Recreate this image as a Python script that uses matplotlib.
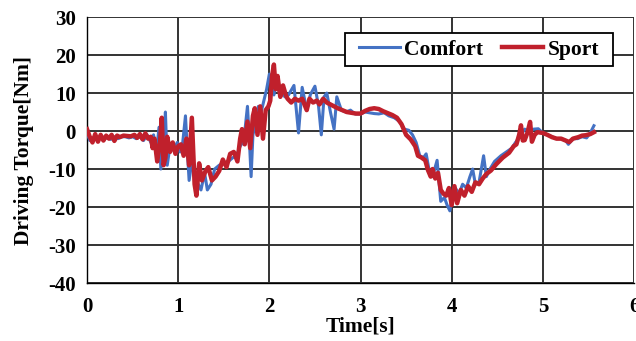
import numpy as np
import matplotlib
matplotlib.use("Agg")
from matplotlib import pyplot as plt
from matplotlib.patches import Rectangle

# torque traces for the two drive modes
t_comfort = [0.00, 0.03, 0.06, 0.09, 0.12, 0.15, 0.18, 0.22, 0.26, 0.30, 0.34, 0.38, 0.42, 0.46,
             0.50, 0.54, 0.58, 0.62, 0.66, 0.70, 0.73, 0.76, 0.79, 0.81, 0.84, 0.86, 0.88, 0.91,
             0.95, 0.99, 1.02, 1.05, 1.08, 1.10, 1.12, 1.15, 1.18, 1.22, 1.25, 1.29, 1.32, 1.36,
             1.40, 1.45, 1.50, 1.55, 1.60, 1.64, 1.68, 1.72, 1.76, 1.78, 1.80, 1.82, 1.85, 1.88,
             1.91, 1.94, 1.97, 2.00, 2.03, 2.05, 2.08, 2.11, 2.13, 2.17, 2.21, 2.27, 2.32, 2.36,
             2.41, 2.45, 2.50, 2.54, 2.57, 2.60, 2.63, 2.67, 2.71, 2.74, 2.79, 2.84, 2.89, 2.94,
             3.00, 3.05, 3.10, 3.15, 3.20, 3.26, 3.31, 3.37, 3.43, 3.48, 3.53, 3.57, 3.61, 3.65,
             3.69, 3.72, 3.76, 3.79, 3.84, 3.88, 3.92, 3.95, 3.98, 4.01, 4.04, 4.08, 4.12, 4.16,
             4.20, 4.23, 4.26, 4.30, 4.35, 4.38, 4.42, 4.47, 4.54, 4.60, 4.66, 4.70, 4.75, 4.80,
             4.85, 4.90, 4.95, 5.00, 5.05, 5.10, 5.15, 5.20, 5.25, 5.28, 5.33, 5.38, 5.43, 5.48,
             5.52, 5.56]
comfort = [-0.5, -2.5, -2.0, -1.5, -2.5, -1.2, -2.5, -1.5, -2.2, -1.5, -2.0, -1.5, -1.5, -1.8,
           -1.5, -2.0, -1.5, -2.5, -1.0, -3.0, -1.0, -6.0, 1.0, -10.0, -4.0, 5.0, -9.0, -4.0,
           -5.0, -3.0, -5.5, -3.0, 4.0, -5.0, -13.0, -8.0, -12.0, -14.0, -15.5, -11.0, -15.5, -14.0,
           -10.0, -9.0, -8.5, -8.0, -7.0, -6.5, -4.0, -2.5, 6.5, -2.0, -12.0, -1.0, 2.0, 6.5,
           5.0, 8.0, 11.0, 15.0, 11.0, 9.5, 14.0, 10.0, 11.0, 9.0, 9.5, 12.0, -0.5, 11.5,
           5.5, 9.6, 11.8, 6.5, -1.0, 9.0, 10.0, 5.0, 0.5, 9.0, 5.5, 5.0, 5.5, 4.5,
           4.5, 5.0, 4.8, 4.6, 4.5, 4.8, 4.0, 3.5, 2.5, 0.5, 0.2, -1.0, -3.0, -6.5,
           -7.0, -6.0, -11.3, -12.0, -7.7, -18.5, -17.5, -19.5, -21.0, -17.0, -15.0, -16.5, -14.0, -15.0,
           -12.0, -10.0, -14.0, -13.5, -6.5, -12.0, -10.0, -8.0, -6.5, -5.5, -4.5, -3.0, -1.5, 0.5,
           0.0, 0.5, 0.6, -0.5, -1.0, -1.5, -2.0, -2.0, -2.5, -3.5, -2.0, -2.0, -1.5, -1.8,
           -0.5, 1.4]

t_sport = [0.00, 0.03, 0.06, 0.09, 0.12, 0.15, 0.18, 0.21, 0.24, 0.27, 0.30, 0.33, 0.36, 0.40,
           0.44, 0.48, 0.52, 0.55, 0.58, 0.61, 0.64, 0.67, 0.70, 0.72, 0.74, 0.77, 0.80, 0.82,
           0.84, 0.86, 0.88, 0.91, 0.94, 0.97, 1.00, 1.03, 1.06, 1.09, 1.12, 1.15, 1.18, 1.20,
           1.23, 1.26, 1.30, 1.33, 1.37, 1.41, 1.45, 1.49, 1.53, 1.57, 1.61, 1.65, 1.68, 1.70,
           1.73, 1.76, 1.79, 1.82, 1.84, 1.87, 1.90, 1.93, 1.96, 1.99, 2.01, 2.03, 2.05, 2.07,
           2.09, 2.12, 2.15, 2.18, 2.20, 2.24, 2.28, 2.32, 2.36, 2.41, 2.44, 2.48, 2.52, 2.55,
           2.59, 2.63, 2.67, 2.71, 2.75, 2.80, 2.85, 2.90, 2.95, 3.00, 3.05, 3.10, 3.15, 3.20,
           3.25, 3.30, 3.35, 3.40, 3.45, 3.50, 3.55, 3.60, 3.63, 3.67, 3.71, 3.74, 3.77, 3.79,
           3.82, 3.85, 3.88, 3.91, 3.94, 3.97, 4.00, 4.03, 4.06, 4.10, 4.14, 4.18, 4.22, 4.26,
           4.30, 4.34, 4.38, 4.43, 4.49, 4.56, 4.63, 4.68, 4.71, 4.74, 4.76, 4.78, 4.80, 4.83,
           4.86, 4.88, 4.91, 4.94, 5.00, 5.05, 5.10, 5.15, 5.20, 5.25, 5.29, 5.33, 5.39, 5.43,
           5.47, 5.52, 5.56]
sport = [0.5, -1.5, -3.0, -0.8, -2.8, -1.0, -2.5, -1.2, -2.0, -1.0, -2.6, -1.2, -1.6, -1.2,
         -1.3, -1.4, -1.0, -1.8, -0.8, -2.2, -0.6, -2.0, -1.5, -4.5, -2.0, -8.0, -3.0, 3.5,
         -9.0, -7.0, -1.5, -5.5, -3.0, -6.0, -4.0, -3.5, -6.5, -2.0, -9.0, 3.5, -14.0, -17.0,
         -8.5, -13.0, -10.5, -9.5, -13.0, -12.0, -10.5, -7.5, -9.5, -6.0, -5.5, -8.0, -2.0, 0.5,
         -3.5, 2.5, -4.5, 4.0, 6.0, -1.0, 6.5, -2.0, 5.5, 6.5, 8.0, 14.5, 17.5, 11.0,
         14.5, 9.0, 12.0, 9.5, 8.5, 7.5, 8.5, 8.0, 8.5, 5.5, 8.5, 7.5, 8.0, 7.0,
         8.5, 7.5, 7.0, 6.5, 6.0, 5.5, 5.0, 4.8, 4.6, 4.6, 5.3, 5.8, 6.0, 5.8,
         5.2, 4.7, 4.2, 3.5, 1.8, -1.0, -2.2, -4.0, -6.5, -7.0, -7.7, -10.3, -12.0, -10.0,
         -12.5, -11.0, -15.5, -16.5, -17.0, -15.0, -19.5, -14.5, -19.0, -15.5, -17.0, -14.5, -16.0, -13.5,
         -14.0, -12.5, -11.3, -10.4, -8.7, -7.0, -5.7, -4.0, -3.5, -1.0, 1.5, -2.5, -2.4, -0.5,
         2.4, -2.8, -1.0, -0.3, -0.5, -1.0, -1.6, -2.0, -2.0, -2.5, -2.9, -2.0, -1.6, -1.2,
         -1.1, -0.8, -0.3]

plt.rcParams['font.family'] = ['Liberation Serif', 'DejaVu Serif']
plt.rcParams['font.weight'] = 'bold'
plt.rcParams['axes.unicode_minus'] = False

fig = plt.figure(figsize=(6.36, 3.41), dpi=100)
ax = fig.add_axes([0.1368, 0.170, 0.8601, 0.780])

ax.plot(t_comfort, comfort, color='#4472C4', lw=2.2, label='Comfort', zorder=3)
ax.plot(t_sport, sport, color='#C0202C', lw=3.2, label='Sport', zorder=4)

ax.set_xlim(0, 6)
ax.set_ylim(-40, 30)
ax.set_xticks(np.arange(0, 7, 1))
ax.set_yticks(np.arange(-40, 31, 10))
ax.grid(True, color='#333333', lw=1.4)
ax.set_axisbelow(True)
for side in ['top', 'right']:
    ax.spines[side].set_visible(False)
for side in ['left', 'bottom']:
    ax.spines[side].set_color('black')
    ax.spines[side].set_linewidth(1.0)
ax.tick_params(length=0, labelsize=15)
ax.tick_params(axis='y', pad=8)
ax.tick_params(axis='x', pad=10)
for lab in ax.get_xticklabels() + ax.get_yticklabels():
    lab.set_fontweight('bold')

ax.set_xlabel('Time[s]', fontsize=15.5, fontweight='bold', labelpad=0)
ax.set_ylabel('Driving Torque[Nm]', fontsize=15.5, fontweight='bold', labelpad=10)

# legend box is wider than the entries, so draw the frame separately
box = Rectangle((0.4717, 0.816), 0.4899, 0.124, transform=ax.transAxes,
                facecolor='white', edgecolor='black', lw=1.3, zorder=5)
ax.add_patch(box)
leg = ax.legend(loc='center', bbox_to_anchor=(0.7166, 0.878), ncol=2,
                fontsize=15.5, frameon=False,
                handlelength=1.9, handletextpad=0.2, columnspacing=0.9,
                borderpad=0.0, borderaxespad=0.0)
leg.set_zorder(6)
for txt in leg.get_texts():
    txt.set_fontweight('bold')

fig.savefig('out.png', dpi=100)
